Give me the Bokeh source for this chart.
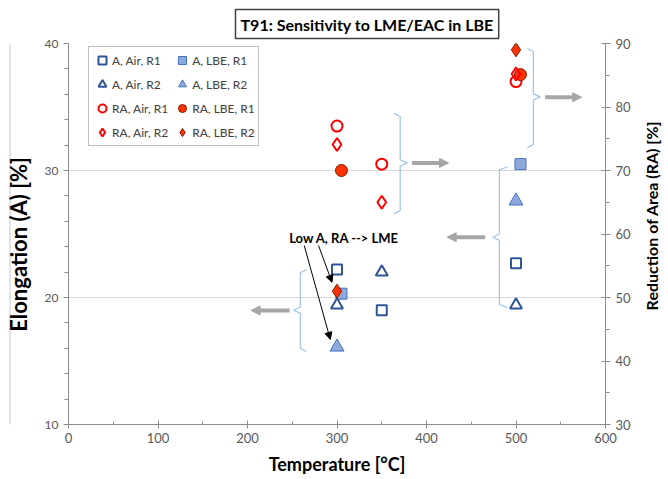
import math
from bokeh.plotting import figure
from bokeh.layouts import column, row
from bokeh.models import (Range1d, LinearAxis, SingleIntervalTicker, Legend, LegendItem,
                          Label, Arrow, NormalHead, Title)
from bokeh.embed import file_html
from bokeh.resources import INLINE

FONT = "Lato"

# ---------------- text ----------------
title_text = "T91: Sensitivity to LME/EAC in LBE"
x_label = "Temperature [°C]"
y_label = "Elongation (A) [%]"
y2_label = "Reduction of Area (RA) [%]"
note_text = "Low A, RA --> LME"

# ---------------- data ----------------
# Elongation A [%] (left axis)
a_air_r1_t = [300, 350, 500]
a_air_r1 = [22.2, 19.0, 22.7]
a_air_r2_t = [300, 350, 500]
a_air_r2 = [19.4, 22.0, 19.4]
a_lbe_r1_t = [305, 505]
a_lbe_r1 = [20.3, 30.5]
a_lbe_r2_t = [300, 500]
a_lbe_r2 = [16.1, 27.6]

# Reduction of area RA [%] (right axis)
ra_air_r1_t = [300, 350, 500]
ra_air_r1 = [77.0, 71.0, 84.0]
ra_air_r2_t = [300, 350, 500]
ra_air_r2 = [74.1, 65.0, 85.2]
ra_lbe_r1_t = [305, 505]
ra_lbe_r1 = [70.0, 85.1]
ra_lbe_r2_t = [300, 500]
ra_lbe_r2 = [51.0, 89.0]

BORDER = "#C8C8C8"


def blank(w, h):
    f = figure(width=w, height=h, x_range=Range1d(0, w), y_range=Range1d(0, h),
               x_axis_type=None, y_axis_type=None, output_backend="svg",
               toolbar_location=None, min_border=0)
    f.outline_line_color = None
    f.background_fill_color = "white"
    f.border_fill_color = "white"
    return f


# ---------------- main figure ----------------
p = figure(width=606, height=474, x_range=Range1d(0, 600), y_range=Range1d(10, 40),
           output_backend="svg", toolbar_location=None,
           min_border_left=34, min_border_right=35, min_border_top=38, min_border_bottom=55)
p.extra_y_ranges = {"ra": Range1d(30, 90)}
p.outline_line_color = None
p.background_fill_color = "white"
p.border_fill_color = "white"

tick_col = "#595959"
axis_col = "#8C8C8C"

xax = p.xaxis[0]
yax = p.yaxis[0]
xax.ticker = SingleIntervalTicker(interval=100, num_minor_ticks=2)
yax.ticker = SingleIntervalTicker(interval=10, num_minor_ticks=5)
p.xgrid.visible = False
p.ygrid.grid_line_color = "#D9D9D9"
p.ygrid.grid_line_width = 1

y2 = LinearAxis(y_range_name="ra", ticker=SingleIntervalTicker(interval=10, num_minor_ticks=2))
p.add_layout(y2, "right")

for ax in [xax, yax, y2]:
    ax.axis_line_color = axis_col
    ax.major_tick_line_color = axis_col
    ax.minor_tick_line_color = axis_col
    ax.major_label_text_color = tick_col
    ax.major_label_text_font = FONT
    ax.major_label_text_font_size = "13px"
    ax.axis_label_text_font = FONT
    ax.axis_label_text_font_style = "bold"
    ax.axis_label_text_color = "#000000"

xax.axis_label = x_label
xax.axis_label_text_font_size = "18px"
xax.major_tick_in = 4
xax.major_tick_out = 4
xax.minor_tick_in = 3
xax.minor_tick_out = 0
xax.major_label_standoff = 4
xax.axis_label_standoff = 7

yax.major_label_text_font_size = "12px"
yax.major_tick_in = 0
yax.major_tick_out = 5
yax.minor_tick_in = 0
yax.minor_tick_out = 4
yax.major_label_standoff = 5

y2.major_tick_in = 4
y2.major_tick_out = 5
y2.minor_tick_in = 0
y2.minor_tick_out = 4
y2.major_label_standoff = 5

# ---------------- annotations (braces and arrows) ----------------
brace_col = "#9DC3E6"
# (x_hook, x_spine, x_tip, y_top, y_mid, y_bot) in left-axis data units
braces = [
    (363.9, 370.6, 378.4, 34.5, 30.6, 26.6),
    (512.7, 519.4, 526.9, 39.6, 35.8, 31.8),
    (490.4, 481.5, 474.1, 30.3, 24.75, 19.2),
    (265.7, 259.0, 251.5, 22.2, 19.0, 15.75),
]
bx, by = [], []
for xh, xs, xt, yt, ym, yb in braces:
    bx.append([xh, xs, xs, xt, xs, xs, xh])
    by.append([yt, yt - 0.25, ym + 0.25, ym, ym - 0.25, yb + 0.25, yb])
p.multi_line(bx, by, line_color=brace_col, line_width=1.2)

grey_arrows = [
    (383.7, 30.6, 424.6, 30.6),
    (532.5, 35.77, 573.4, 35.77),
    (465.5, 24.75, 423.1, 24.75),
    (247.0, 18.98, 204.0, 18.98),
]
for xs, ys, xe, ye in grey_arrows:
    p.add_layout(Arrow(x_start=xs, y_start=ys, x_end=xe, y_end=ye,
                       line_color="#A6A6A6", line_width=4,
                       end=NormalHead(size=9, fill_color="#A6A6A6", line_color="#A6A6A6")))

black_arrows = [
    (279.4, 24.09, 294.4, 21.2),
    (263.4, 24.09, 292.5, 16.7),
]
for xs, ys, xe, ye in black_arrows:
    p.add_layout(Arrow(x_start=xs, y_start=ys, x_end=xe, y_end=ye,
                       line_color="black", line_width=1,
                       end=NormalHead(size=7, fill_color="black", line_color="black")))

p.add_layout(Label(x=308, y=24.72, text=note_text, text_align="center", text_baseline="middle",
                   text_font=FONT, text_font_size="13px", text_font_style="bold",
                   text_color="#000000"))

# ---------------- series ----------------
dark_blue = "#2F5597"
light_blue = "#8EA9DB"
mid_blue = "#4472C4"
red = "#FF0000"
red_fill = "#FF3300"
red_dark = "#7F1A00"

r1 = p.scatter(a_air_r1_t, a_air_r1, marker="square", size=10, fill_color=None,
               line_color=dark_blue, line_width=2)
r2 = p.scatter(a_lbe_r1_t, a_lbe_r1, marker="square", size=11, fill_color=light_blue,
               line_color=mid_blue, line_width=1)
r3 = p.scatter(a_air_r2_t, a_air_r2, marker="triangle", size=12, fill_color=None,
               line_color=dark_blue, line_width=2)
r4 = p.scatter(a_lbe_r2_t, a_lbe_r2, marker="triangle", size=14, fill_color=light_blue,
               line_color=mid_blue, line_width=1)
r5 = p.scatter(ra_air_r1_t, ra_air_r1, marker="circle", size=11, fill_color=None,
               line_color=red, line_width=2, y_range_name="ra")
r6 = p.scatter(ra_lbe_r1_t, ra_lbe_r1, marker="circle", size=12, fill_color=red_fill,
               line_color=red_dark, line_width=1, y_range_name="ra")
r7 = p.scatter(ra_air_r2_t, ra_air_r2, marker="diamond", size=13, fill_color=None,
               line_color=red, line_width=2, y_range_name="ra")
r8 = p.scatter(ra_lbe_r2_t, ra_lbe_r2, marker="diamond", size=14, fill_color=red_fill,
               line_color=red_dark, line_width=1, y_range_name="ra")

# column-major order: first column Air, second column LBE
legend = Legend(items=[
    LegendItem(label="A, Air, R1", renderers=[r1]),
    LegendItem(label="A, Air, R2", renderers=[r3]),
    LegendItem(label="RA, Air, R1", renderers=[r5]),
    LegendItem(label="RA, Air, R2", renderers=[r7]),
    LegendItem(label="A, LBE, R1", renderers=[r2]),
    LegendItem(label="A, LBE, R2", renderers=[r4]),
    LegendItem(label="RA, LBE, R1", renderers=[r6]),
    LegendItem(label="RA, LBE, R2", renderers=[r8]),
], ncols=2, location=(20, 278))
legend.label_text_font = FONT
legend.label_text_font_size = "12px"
legend.label_text_color = "#404040"
legend.glyph_width = 20
legend.glyph_height = 20
legend.label_standoff = -3
legend.label_height = 20
legend.spacing = 4
legend.padding = 3
legend.margin = 0
legend.border_line_color = "#7F7F7F"
legend.border_line_width = 1
legend.background_fill_alpha = 1
p.add_layout(legend, "center")

# ---------------- title box ----------------
t = Title(text=title_text, align="left", offset=167, vertical_align="top",
          text_font=FONT, text_font_size="16px", text_font_style="bold",
          text_color="#000000", standoff=6)
tprops = t.properties()
if "border_line_color" in tprops:
    t.border_line_color = "#404040"
    t.border_line_width = 1.5
if "background_fill_color" in tprops:
    t.background_fill_color = "white"
if "padding" in tprops:
    t.padding = 5
p.title = t

# ---------------- side strips: axis titles and chart border ----------------
left_strip = blank(34, 474)
left_strip.segment(x0=[9.5], y0=[0], x1=[9.5], y1=[474], line_color=BORDER, line_width=1)
left_strip.add_layout(Label(x=18, y=224, text=y_label, angle=math.pi / 2,
                            text_align="center", text_baseline="middle",
                            text_font=FONT, text_font_size="22px", text_font_style="bold",
                            text_color="#000000"))

right_strip = blank(28, 474)
right_strip.add_layout(Label(x=11, y=260, text=y2_label, angle=math.pi / 2,
                             text_align="center", text_baseline="middle",
                             text_font=FONT, text_font_size="16px", text_font_style="bold",
                             text_color="#000000"))

top_strip = blank(668, 5)
top_strip.segment(x0=[9], y0=[0.5], x1=[668], y1=[0.5], line_color=BORDER, line_width=1)
top_strip.segment(x0=[9.5], y0=[0], x1=[9.5], y1=[0.5], line_color=BORDER, line_width=1)

layout = column(top_strip, row(left_strip, p, right_strip, spacing=0), spacing=0)

open("out.html", "w").write(file_html(layout, INLINE))
